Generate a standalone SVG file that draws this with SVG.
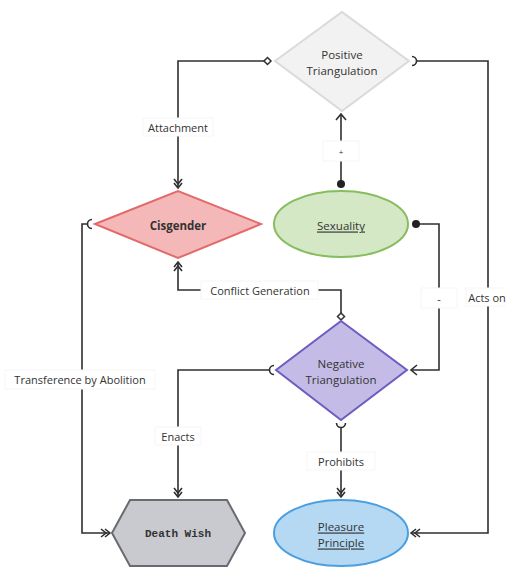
<svg xmlns="http://www.w3.org/2000/svg" width="506" height="567" viewBox="0 0 506 567">
<style>
.edge{fill:none;stroke:#2f2f2f;stroke-width:1.6}
.lbl{font-family:"Open Sans","Liberation Sans",sans-serif;font-size:11px;fill:#333;text-anchor:middle;dominant-baseline:central}
.lbox{fill:#fff;stroke:#f6f6f6;stroke-width:1}
.nt{font-family:"Open Sans","Liberation Sans",sans-serif;font-size:11.5px;fill:#333;text-anchor:middle;dominant-baseline:central}
.b{font-weight:bold}
.m{stroke:#2f2f2f;stroke-width:1.6;fill:none}
</style>
<defs>
<marker id="dbl" markerUnits="userSpaceOnUse" markerWidth="20" markerHeight="20" refX="0" refY="0" orient="auto" overflow="visible">
<path class="m" d="M-5,-4 L0,0 L-5,4 M-9,-4 L-4,0 L-9,4"/>
</marker>
<marker id="arr" markerUnits="userSpaceOnUse" markerWidth="20" markerHeight="20" refX="0" refY="0" orient="auto" overflow="visible">
<path class="m" d="M-6,-5 L0,0 L-6,5"/>
</marker>
<marker id="dia" markerUnits="userSpaceOnUse" markerWidth="20" markerHeight="20" refX="0" refY="0" orient="auto" overflow="visible">
<path d="M0,0 L3.5,-3.5 L7,0 L3.5,3.5 Z" fill="#fff" stroke="#2f2f2f" stroke-width="1.5"/>
</marker>
<marker id="dot" markerUnits="userSpaceOnUse" markerWidth="20" markerHeight="20" refX="0" refY="0" orient="auto" overflow="visible">
<circle cx="0" cy="0" r="4" fill="#222"/>
</marker>
<marker id="sock" markerUnits="userSpaceOnUse" markerWidth="20" markerHeight="20" refX="0" refY="0" orient="auto" overflow="visible">
<path class="m" d="M-4,-4.5 A4.5,4.5 0 0 1 -4,4.5"/>
</marker>
</defs>

<g id="connectors">
<path class="edge" d="M271,61 H178 V188" marker-start="url(#dia)" marker-end="url(#dbl)"/>
<path class="edge" d="M416,61 H488 V533 H411" marker-start="url(#sock)" marker-end="url(#dbl)"/>
<path class="edge" d="M341,184 V114" marker-start="url(#dot)" marker-end="url(#arr)"/>
<path class="edge" d="M416,224 H439 V370 H411" marker-start="url(#dot)" marker-end="url(#arr)"/>
<path class="edge" d="M88,224 H82 V533 H110" marker-start="url(#sock)" marker-end="url(#dbl)"/>
<path class="edge" d="M341,320 V290 H178 V262" marker-start="url(#dia)" marker-end="url(#dbl)"/>
<path class="edge" d="M270,370 H178 V497" marker-start="url(#sock)" marker-end="url(#dbl)"/>
<path class="edge" d="M341,427 V497" marker-start="url(#sock)" marker-end="url(#dbl)"/>

<rect class="lbox" x="143" y="118" width="70" height="18"/>
<text class="lbl" x="178" y="127">Attachment</text>
<rect class="lbox" x="466" y="288" width="42" height="18"/>
<text class="lbl" x="487" y="297">Acts on</text>
<rect class="lbox" x="323" y="141" width="36" height="20"/>
<text class="lbl" x="341" y="151" style="font-size:8px">+</text>
<rect class="lbox" x="421" y="288" width="36" height="20"/>
<text class="lbl" x="439" y="298">-</text>
<rect class="lbox" x="5" y="370" width="150" height="19"/>
<text class="lbl" x="80" y="379">Transference by Abolition</text>
<rect class="lbox" x="201" y="281" width="117" height="18"/>
<text class="lbl" x="260" y="290">Conflict Generation</text>
<rect class="lbox" x="155" y="427" width="46" height="18"/>
<text class="lbl" x="178" y="436">Enacts</text>
<rect class="lbox" x="307" y="452" width="68" height="18"/>
<text class="lbl" x="341" y="461">Prohibits</text>
</g>

<g id="positive-triangulation">
<polygon points="275,61 342,12 409,61 342,111" fill="#f2f2f2" stroke="#dadada" stroke-width="2"/>
<text class="nt" x="342" y="54">Positive</text>
<text class="nt" x="342" y="70">Triangulation</text>
</g>
<g id="cisgender">
<polygon points="95,224 178,191 261,224 178,258" fill="#f5b8b8" stroke="#e36a6a" stroke-width="2"/>
<text class="nt b" x="178" y="225">Cisgender</text>
</g>
<g id="sexuality">
<ellipse cx="341" cy="224" rx="67" ry="33" fill="#d4e8c6" stroke="#86bd5e" stroke-width="2"/>
<text class="nt" x="341" y="225" text-decoration="underline">Sexuality</text>
</g>
<g id="negative-triangulation">
<polygon points="276,370 341,321 407,370 341,420" fill="#c4bce6" stroke="#6e5cc0" stroke-width="2"/>
<text class="nt" x="341" y="363" style="font-weight:500">Negative</text>
<text class="nt" x="341" y="379" style="font-weight:500">Triangulation</text>
</g>
<g id="death-wish">
<polygon points="112,533 130,500 227,500 245,533 227,566 130,566" fill="#c8cacf" stroke="#6a6a70" stroke-width="2"/>
<text class="nt b" x="178" y="534" style="font-family:'Liberation Mono',monospace;font-size:11px">Death Wish</text>
</g>
<g id="pleasure-principle">
<ellipse cx="341" cy="533" rx="67" ry="33" fill="#b5d8f3" stroke="#4a9fe0" stroke-width="2"/>
<text class="nt" x="341" y="526" text-decoration="underline">Pleasure</text>
<text class="nt" x="341" y="542" text-decoration="underline">Principle</text>
</g>
</svg>
